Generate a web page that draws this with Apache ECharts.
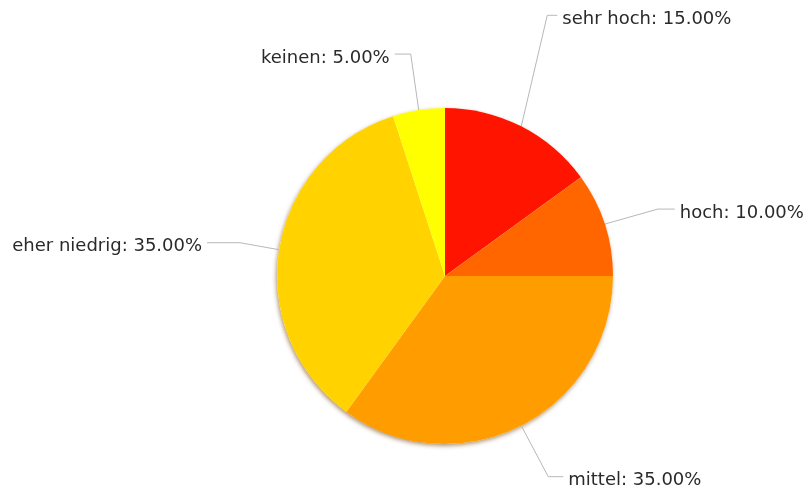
<!DOCTYPE html>
<html>
<head>
<meta charset="utf-8">
<script src="https://cdn.jsdelivr.net/npm/echarts@6/dist/echarts.min.js"></script>
<style>
  html, body { margin: 0; padding: 0; background: #fff; }
  #chart { width: 807px; height: 489px; }
</style>
</head>
<body>
<div id="chart"></div>
<script>
// Share of answers per level, clockwise from 12 o'clock
const categories = ['sehr hoch', 'hoch', 'mittel', 'eher niedrig', 'keinen'];
const shares = [15, 10, 35, 35, 5];
const sliceColors = ['#ff1400', '#ff6600', '#ff9c00', '#ffd200', '#ffff00'];

// Leader line bend (offset from slice edge) and horizontal run per label
const elbowOffsets = [[26, -111], [53, -15], [27, 51], [-39, -7], [-8, -56]];
const runLengths = [10, 17, 15, 33, 16];

const CX = 445, CY = 276, R = 168;

const chart = echarts.init(document.getElementById('chart'), null, { renderer: 'canvas' });

const data = categories.map((name, i) => ({
  name,
  value: shares[i],
  itemStyle: { color: sliceColors[i] }
}));

chart.setOption({
  animation: false,
  backgroundColor: '#ffffff',
  series: [
    {
      // soft shadow under the disc
      type: 'pie',
      silent: true,
      center: [CX, CY],
      radius: R,
      label: { show: false },
      labelLine: { show: false },
      itemStyle: {
        color: '#ffffff',
        shadowBlur: 4,
        shadowOffsetX: -1,
        shadowOffsetY: 2,
        shadowColor: 'rgba(110,60,0,0.55)'
      },
      data: [{ value: 1 }],
      z: 1
    },
    {
      type: 'pie',
      center: [CX, CY],
      radius: R,
      startAngle: 90,
      clockwise: true,
      z: 2,
      label: {
        show: true,
        position: 'outside',
        formatter: p => p.name + ': ' + p.value.toFixed(2) + '%',
        fontFamily: '"DejaVu Sans", sans-serif',
        fontSize: 18,
        color: '#2a2a2a'
      },
      labelLine: {
        show: true,
        length: 20,
        length2: 10,
        smooth: false,
        lineStyle: { color: '#b8b8b8', width: 1 }
      },
      labelLayout: function (params) {
        const i = params.dataIndex;
        const start = params.labelLinePoints[0];
        const elbow = [start[0] + elbowOffsets[i][0], start[1] + elbowOffsets[i][1]];
        const right = elbowOffsets[i][0] >= 0;
        const end = [elbow[0] + (right ? runLengths[i] : -runLengths[i]), elbow[1]];
        return {
          x: end[0] + (right ? 5 : -5),
          y: elbow[1] + 4,
          align: right ? 'left' : 'right',
          verticalAlign: 'middle',
          labelLinePoints: [start, elbow, end]
        };
      },
      data
    }
  ]
});
</script>
</body>
</html>
